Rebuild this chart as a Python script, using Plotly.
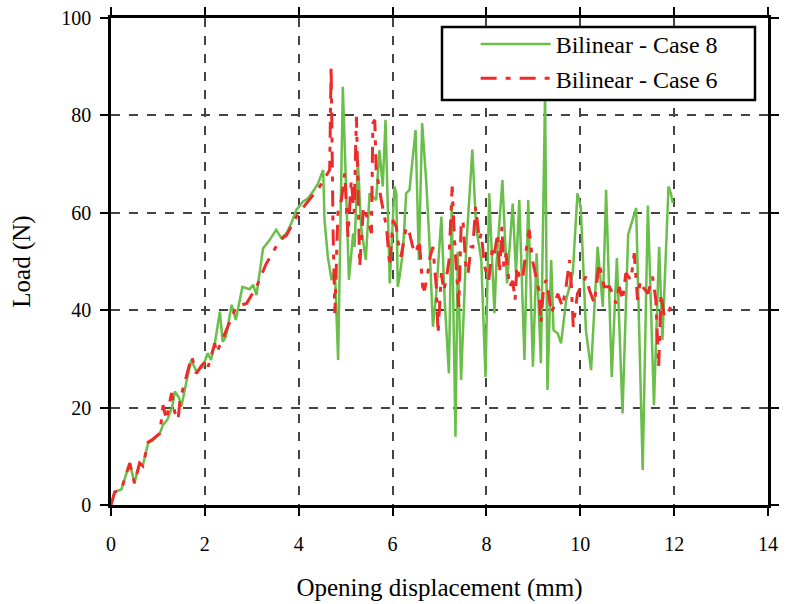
import plotly.graph_objects as go

# ---------------- data ----------------
case8_x = [0, 0.08, 0.22, 0.40, 0.50, 0.61, 0.68, 0.79, 0.89, 1.04, 1.11, 1.20, 1.30, 1.36, 1.45, 1.50,
           1.60, 1.71, 1.82, 1.96, 2.06, 2.13, 2.21, 2.32, 2.38, 2.45, 2.57, 2.66, 2.80, 2.95, 3.03,
           3.10, 3.24, 3.38, 3.52, 3.63, 3.74, 3.84, 3.95, 4.09, 4.20, 4.30, 4.41, 4.52,
           4.55, 4.59, 4.62, 4.70, 4.77, 4.84, 4.94, 5.01, 5.07, 5.16, 5.19, 5.26, 5.33, 5.43,
           5.51, 5.58, 5.65, 5.72, 5.79, 5.85, 5.90, 5.94, 6.04, 6.08, 6.11, 6.15, 6.22, 6.29,
           6.36, 6.49, 6.56, 6.63, 6.72, 6.78, 6.86, 6.93, 7.04, 7.11, 7.20, 7.26, 7.34, 7.39,
           7.46, 7.57, 7.70, 7.78, 7.89, 7.98, 8.06, 8.17, 8.21, 8.34, 8.44, 8.56, 8.63, 8.70,
           8.81, 8.89, 8.99, 9.07, 9.16, 9.25, 9.30, 9.38, 9.43, 9.52, 9.59, 9.70, 9.84, 9.94,
           10.01, 10.12, 10.23, 10.37, 10.48, 10.55, 10.67, 10.78, 10.90, 11.02, 11.19, 11.33,
           11.44, 11.57, 11.68, 11.75, 11.88, 11.93, 11.97]
case8_y = [0, 2.7, 3.2, 8.6, 4.5, 8.6, 8.2, 12.7, 13.3, 14.7, 16.5, 17.5, 20.0, 23.3, 22.0, 20.2,
           25.0, 29.8, 27.4, 28.4, 31.2, 29.8, 33.0, 39.7, 33.5, 34.6, 41.1, 38.0, 44.8, 44.3, 45.2,
           43.1, 52.7, 54.4, 56.5, 54.8, 55.8, 57.8, 60.6, 62.3, 63.0, 64.3, 66.0, 68.8,
           58.5, 53.0, 51.0, 46.2, 48.3, 29.8, 85.9, 64.7, 46.2, 55.8, 53.0, 70.8, 57.1, 50.3,
           64.0, 63.3, 62.6, 72.9, 65.4, 79.1, 60.0, 45.5, 65.4, 64.0, 44.8, 46.9, 52.0, 64.0,
           64.7, 77.0, 50.3, 78.4, 66.0, 55.0, 36.6, 43.4, 59.2, 42.1, 27.0, 62.0, 14.0, 52.0,
           25.7, 53.0, 73.0, 57.1, 50.3, 26.3, 64.0, 39.4, 48.9, 66.7, 45.5, 61.9, 47.6, 62.6,
           29.8, 62.6, 28.4, 51.7, 29.1, 85.0, 23.6, 50.3, 35.9, 35.2, 33.2, 42.1, 47.6, 64.0,
           61.2, 35.9, 27.7, 53.0, 40.7, 64.7, 26.3, 50.7, 18.8, 55.5, 61.0, 7.2,
           61.5, 20.5, 53.0, 33.9, 65.4, 64.0, 62.0]

case6_x = [0, 0.08, 0.22, 0.40, 0.50, 0.61, 0.68, 0.79, 0.89, 1.04, 1.11, 1.18, 1.29, 1.36, 1.43,
           1.47, 1.58, 1.72, 1.82, 1.92, 2.04, 2.07, 2.21, 2.25, 2.35, 2.46, 2.67, 2.89, 3.10, 3.31,
           3.60, 3.74, 3.95, 4.16, 4.45, 4.66,
           4.69, 4.71, 4.73, 4.77, 4.80, 4.84, 4.91, 4.98, 5.05, 5.12, 5.18, 5.23, 5.27, 5.30,
           5.38, 5.48, 5.55, 5.58, 5.62, 5.65, 5.76, 5.87, 5.94, 6.01, 6.08, 6.11, 6.18, 6.29,
           6.36, 6.43, 6.50, 6.57, 6.64, 6.68, 6.75, 6.80, 6.86, 6.93, 6.97, 7.04, 7.09, 7.14,
           7.20, 7.27, 7.32, 7.36, 7.41, 7.46, 7.50, 7.57, 7.61, 7.67, 7.71, 7.77, 7.85, 7.89,
           7.96, 8.05, 8.13, 8.17, 8.24, 8.28, 8.33, 8.37, 8.42, 8.49, 8.56, 8.61, 8.65, 8.70,
           8.77, 8.84, 8.91, 8.98, 9.06, 9.12, 9.16, 9.22, 9.27, 9.33, 9.38, 9.45, 9.52, 9.62,
           9.70, 9.77, 9.81, 9.85, 9.94, 10.03, 10.12, 10.20, 10.30, 10.40, 10.51, 10.62, 10.69,
           10.76, 10.83, 10.90, 10.97, 11.08, 11.15, 11.22, 11.28, 11.33, 11.44, 11.54, 11.61,
           11.67, 11.72, 11.79, 11.86, 11.93, 11.98]
case6_y = [0, 2.7, 3.2, 8.6, 4.5, 8.6, 8.0, 12.9, 13.5, 14.7, 20.5, 17.5, 23.0, 19.0, 17.5,
           21.6, 25.5, 30.5, 27.0, 28.5, 29.8, 28.4, 33.2, 31.2, 33.5, 35.9, 40.7, 41.4, 44.8, 49.6,
           54.4, 55.4, 59.2, 61.9, 65.4, 68.8,
           90.0, 75.0, 57.1, 39.4, 50.0, 61.2, 62.6, 68.1, 55.1, 66.7, 60.0, 79.7, 62.0, 49.0,
           61.2, 58.5, 55.8, 78.4, 79.1, 68.8, 62.6, 57.1, 49.0, 58.5, 57.1, 54.4, 51.0, 57.1,
           55.8, 53.0, 51.7, 54.4, 44.8, 44.1, 47.6, 51.0, 53.0, 45.0, 35.2, 47.6, 44.0, 46.2,
           50.0, 65.4, 54.4, 49.0, 40.7, 57.1, 58.5, 47.6, 47.6, 53.0, 53.0, 61.2, 54.4, 55.8,
           49.0, 46.2, 53.0, 51.7, 55.8, 47.6, 57.1, 49.0, 51.7, 44.8, 46.0, 42.1, 49.0, 47.0,
           46.2, 52.0, 56.5, 50.3, 46.9, 44.0, 37.3, 45.0, 46.2, 43.0, 39.4, 41.0, 43.4, 40.7,
           45.0, 50.3, 45.0, 36.6, 43.4, 45.0, 46.9, 44.0, 41.4, 49.7, 44.8, 44.8, 43.4,
           41.4, 44.8, 42.0, 47.6, 46.2, 51.7, 42.1, 46.0, 44.8, 43.4, 46.9, 42.1,
           28.4, 43.4, 38.6, 39.4, 40.7, 42.0]

x_ticks = [0, 2, 4, 6, 8, 10, 12, 14]
y_ticks = [0, 20, 40, 60, 80, 100]
series_names = ["Bilinear - Case 8", "Bilinear - Case 6"]

# ---------------- figure ----------------
FONT = "'Liberation Serif', 'Times New Roman', 'DejaVu Serif', serif"
fig = go.Figure()
fig.add_trace(go.Scatter(x=case8_x, y=case8_y, mode="lines", name=series_names[0],
                         line=dict(color="#6abf4b", width=2.5)))
fig.add_trace(go.Scatter(x=case6_x, y=case6_y, mode="lines", name=series_names[1],
                         line=dict(color="#ee2a2a", width=3, dash="16px,9px,5px,9px")))

# legend frame
fig.add_shape(type="rect", xref="paper", yref="paper",
              x0=0.5038, x1=0.9802, y0=0.8316, y1=0.9815,
              line=dict(color="black", width=2.5), fillcolor="white", layer="above")

axis_common = dict(showline=True, linecolor="black", linewidth=2.5, mirror="ticks",
                   ticks="outside", ticklen=8, tickwidth=2, tickcolor="black",
                   showgrid=True, gridcolor="#444444", gridwidth=1.8, griddash="dash",
                   zeroline=False, tickfont=dict(family=FONT, size=20, color="black"))

fig.update_xaxes(range=[0, 14], tickvals=x_ticks, ticklabelstandoff=11,
                 title=dict(text="Opening displacement (mm)", standoff=25,
                            font=dict(family=FONT, size=25, color="black")),
                 **axis_common)
fig.update_yaxes(range=[0, 100], tickvals=y_ticks, ticklabelstandoff=5,
                 title=dict(text="Load (N)", standoff=24,
                            font=dict(family=FONT, size=25, color="black")),
                 **axis_common)

fig.update_layout(
    width=786, height=604,
    margin=dict(l=111, r=18, t=18, b=99, autoexpand=False),
    paper_bgcolor="white", plot_bgcolor="white",
    font=dict(family=FONT, color="black"),
    showlegend=True,
    legend=dict(x=0.555, y=0.992, xanchor="left", yanchor="top",
                bgcolor="rgba(0,0,0,0)", borderwidth=0, itemwidth=70,
                tracegroupgap=0,
                font=dict(family=FONT, size=24, color="black")),
)

fig.write_html("out.html")
